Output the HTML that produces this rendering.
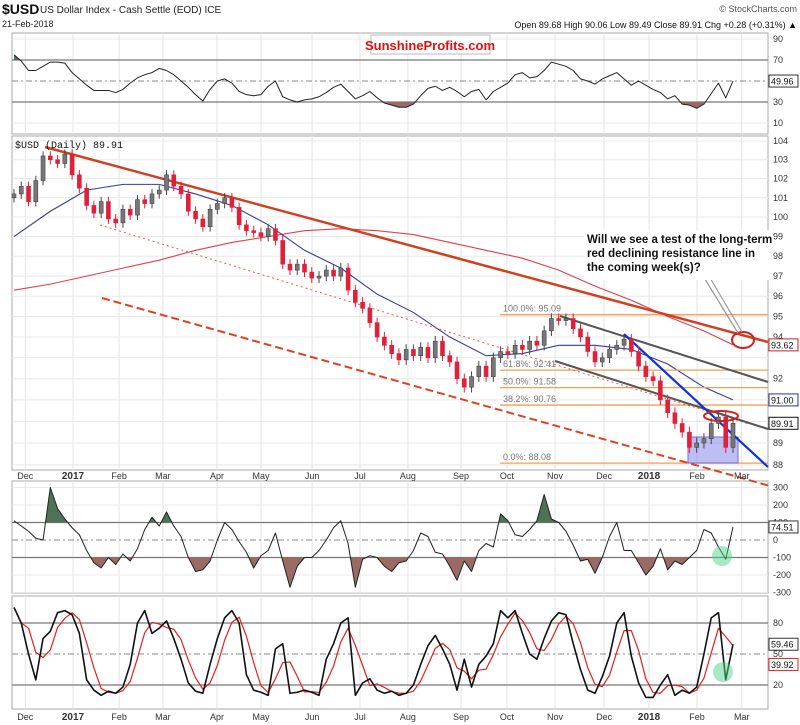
<!DOCTYPE html>
<html><head><meta charset="utf-8"><style>
html,body{margin:0;padding:0;background:#fff;}
svg{display:block;font-family:"Liberation Sans",sans-serif;}
</style></head><body>
<svg id="c" width="800" height="725" viewBox="0 0 800 725" xmlns="http://www.w3.org/2000/svg">
<g id="g"></g>
</svg>
<script>
// ---- data (sampled every ~3 trading sessions, Nov-2016 .. 21-Feb-2018) ----
const closes = [101.2,101.6,100.8,101.9,103.2,103.0,102.8,103.3,102.2,101.5,100.6,100.2,100.8,99.9,99.7,100.4,100.1,100.9,100.7,101.2,101.4,102.2,101.6,101.2,100.3,99.9,99.5,100.4,100.7,101.0,100.5,99.6,99.3,99.2,99.0,99.4,98.8,97.6,97.3,97.6,97.2,96.9,97.0,97.3,97.0,97.4,96.3,95.7,95.4,94.7,94.0,93.6,93.2,92.9,93.4,93.1,93.5,93.0,93.8,93.1,92.8,92.0,91.6,92.1,92.6,92.1,93.0,93.3,93.2,93.6,93.4,93.8,93.6,94.3,94.9,94.8,94.9,94.4,94.0,93.3,92.8,93.0,93.4,93.6,93.9,93.3,92.6,92.1,91.9,91.0,90.4,89.9,89.5,88.8,89.0,89.2,89.9,90.2,88.8,89.91];
const ma50 = [99.0,100.3,101.4,101.7,101.7,101.2,100.6,99.6,98.3,97.4,96.1,95.2,94.0,93.1,93.2,93.6,93.6,93.4,92.7,91.6,91.0];
const ma200 = [96.3,96.6,97.0,97.4,97.8,98.3,98.7,99.0,99.3,99.4,99.3,99.1,98.7,98.3,97.9,97.3,96.5,95.8,95.0,94.3,93.62];
const rsi = [75,69,60,60,64,68,68,67,58,52,46,41,41,41,39,42,48,53,56,58,62,60,56,50,44,37,31,42,50,52,48,40,37,36,37,45,50,35,32,30,32,33,35,39,44,47,40,33,36,40,34,29,27,25,25,28,36,43,45,41,44,40,35,40,42,32,40,44,48,56,58,53,54,60,68,66,64,60,52,50,47,52,55,58,52,46,50,46,42,39,33,36,28,27,24,28,38,48,34,49.96];
const cci = [110,80,50,10,0,300,180,120,70,30,-60,-130,-160,-100,-140,-80,-120,-50,60,130,80,160,80,20,-100,-180,-170,-120,0,100,60,-10,-70,-160,-90,-60,40,-120,-270,-150,-100,-100,-60,0,70,110,-20,-270,-110,-90,-100,-150,-180,-130,-120,-60,40,20,-70,-80,-150,-230,-120,-180,-60,-20,-40,150,110,30,20,60,110,260,120,100,50,-30,-120,-110,-190,-100,20,100,-60,-60,-130,-200,-150,-50,-170,-120,-140,-100,-60,60,40,-40,-110,74.51];
const stochK = [95,80,50,25,65,72,90,92,88,70,25,15,10,14,12,18,40,80,92,70,75,82,65,45,22,14,12,40,65,85,92,80,30,15,13,10,55,60,12,13,15,13,10,45,60,80,85,10,22,26,15,12,14,10,12,20,40,58,68,55,40,15,45,18,40,48,60,92,85,92,70,50,45,65,82,90,88,60,35,15,12,28,48,80,90,48,22,8,8,20,30,10,15,12,18,50,85,90,25,59.46];
const monthLabels = ["Dec","2017","Feb","Mar","Apr","May","Jun","Jul","Aug","Sep","Oct","Nov","Dec","2018","Feb","Mar"];
const monthSession = [5,26.1,46.5,65.9,89.8,109.3,131.9,153.1,174.3,197.8,218.1,239.4,261.1,281,302.2,322];
const priceTicks = [104,103,102,101,100,99,98,97,96,95,94,92,89,88];
const fibLevels = [95.09,92.41,91.58,90.76,88.08];
const fibNames = ["100.0%","61.8%","50.0%","38.2%","0.0%"];
const rsiTicks = [90,70,30,10];
const cciTicks = [300,200,100,0,-100,-200,-300];
const stochTicks = [80,50,20];

const NS="http://www.w3.org/2000/svg";
const G=document.getElementById('g');
function el(t,a,p){const e=document.createElementNS(NS,t);for(const k in a)e.setAttribute(k,a[k]);(p||G).appendChild(e);return e;}
const L=12,R=768;
const n=closes.length;
const xi=i=>14+i*(733-14)/(n-1);
const xs=s=>14+s*2.26;
const yP=p=>141+(Math.log(104)-Math.log(p))*1939;
const yR=v=>81-(v-50)*1.05;
const yC=v=>540-v*0.175;
const yS=v=>685-(v-20)*1.033;
const panels=[[33,134],[136,470],[481,593],[596,709]];

panels.forEach((pp,k)=>{
  const r=el('rect',{x:L,y:pp[0],width:R-L,height:pp[1]-pp[0],fill:'#fff',stroke:'#aaa','stroke-width':1});
  
  
  monthSession.forEach(s=>{const x=xs(s);if(x>L&&x<R){const l=el('line',{x1:x,x2:x,y1:pp[0],y2:pp[1],stroke:'#e4e4e4'});}});
});
for(let p=88;p<=104;p++){const l=el('line',{x1:L,x2:R,y1:yP(p),y2:yP(p),stroke:'#e8e8e8'});}
[90,10].forEach(v=>{const l=el('line',{x1:L,x2:R,y1:yR(v),y2:yR(v),stroke:'#e8e8e8'});});
[70,30].forEach(v=>{const l=el('line',{x1:L,x2:R,y1:yR(v),y2:yR(v),stroke:'#777','stroke-width':1.3});});
const rm=el('line',{x1:L,x2:R,y1:yR(50),y2:yR(50),stroke:'#888','stroke-dasharray':'6,3,2,3'});
[300,200,-200,-300].forEach(v=>{const l=el('line',{x1:L,x2:R,y1:yC(v),y2:yC(v),stroke:'#e8e8e8'});});
[100,-100].forEach(v=>{const l=el('line',{x1:L,x2:R,y1:yC(v),y2:yC(v),stroke:'#777','stroke-width':1.3});});
const cm=el('line',{x1:L,x2:R,y1:yC(0),y2:yC(0),stroke:'#888','stroke-dasharray':'6,3,2,3'});
[80,20].forEach(v=>{const l=el('line',{x1:L,x2:R,y1:yS(v),y2:yS(v),stroke:'#777','stroke-width':1.3});});
const sm=el('line',{x1:L,x2:R,y1:yS(50),y2:yS(50),stroke:'#888','stroke-dasharray':'6,3,2,3'});

function bandFill(vals,yf,thr,above,color,name){
  const pts=vals.map((v,i)=>xi(i)+','+yf(v)).join(' ');
  const cid='cl'+name;
  const cp=el('clipPath',{id:cid});
  const yt=yf(thr);
  el('rect',above?{x:L,y:0,width:R-L,height:yt}:{x:L,y:yt,width:R-L,height:725-yt},cp);
  const pg=el('polygon',{points:xi(0)+','+yt+' '+pts+' '+xi(vals.length-1)+','+yt,fill:color,'clip-path':'url(#'+cid+')'});
  
}
bandFill(rsi,yR,70,true,'#4f7256','rsi-overbought-fill');
bandFill(rsi,yR,30,false,'#9a6a64','rsi-oversold-fill');
bandFill(cci,yC,100,true,'#4f7256','cci-overbought-fill');
bandFill(cci,yC,-100,false,'#9a6a64','cci-oversold-fill');

function line(vals,yf,color,w,name){const p=el('polyline',{points:vals.map((v,i)=>xi(i)+','+yf(v)).join(' '),fill:'none',stroke:color,'stroke-width':w,'stroke-linejoin':'round'});return p;}
line(rsi,yR,'#222',1,'rsi-line');
line(cci,yC,'#222',1,'cci-line');
const stochD=stochK.map((v,i)=>i<2?v:(stochK[i]+stochK[i-1]+stochK[i-2])/3);
line(stochD,yS,'#e02020',1.2,'stoch-d-line');
line(stochK,yS,'#111',1.6,'stoch-k-line');

function maLine(vals,color,name){const p=el('polyline',{points:vals.map((v,j)=>xi(Math.min(j*5,n-1))+','+yP(v)).join(' '),fill:'none',stroke:color,'stroke-width':1.1});}
maLine(ma200,'#e0404a','ma200-line');
maLine(ma50,'#3a3aa0','ma50-line');

fibLevels.forEach((v,k)=>{
  const l=el('line',{x1:500,x2:R,y1:yP(v),y2:yP(v),stroke:'#f0a050','stroke-width':1.3});
  const t=el('text',{x:503,y:yP(v)-3,'font-size':9,fill:'#777'});t.textContent=fibNames[k]+': '+v.toFixed(2);
});
const bb=el('rect',{x:688,y:437,width:50,height:26,fill:'rgba(110,110,230,0.45)',stroke:'#7070d0'});

function tl(a,name){const l=el('line',a);}
tl({x1:100,y1:225,x2:749,y2:424,stroke:'#e06050','stroke-dasharray':'2,3','stroke-width':1},'dotted-support-line');
tl({x1:560,y1:316,x2:R,y2:382,stroke:'#555','stroke-width':2},'upper-channel-line');
tl({x1:555,y1:361,x2:R,y2:429,stroke:'#555','stroke-width':2},'lower-channel-line');
tl({x1:624,y1:334,x2:R,y2:467,stroke:'#1030e0','stroke-width':2.2},'blue-resistance-line');
tl({x1:45,y1:147,x2:R,y2:342,stroke:'#d04020','stroke-width':2.5},'red-declining-resistance-line');
tl({x1:102,y1:298,x2:770,y2:486,stroke:'#e04020','stroke-width':2,'stroke-dasharray':'8,4'},'red-dashed-support-line');

for(let i=0;i<n;i++){
  const c=closes[i],o=i?closes[i-1]:101.0;
  const hi=Math.max(o,c)+0.25,lo=Math.min(o,c)-0.25,x=xi(i);
  const up=c>=o,col=up?'#444':'#e0203a';
  const w=el('line',{x1:x,x2:x,y1:yP(hi),y2:yP(lo),stroke:col});
  const b=el('rect',{x:x-2,y:yP(Math.max(o,c)),width:4,height:Math.max(1,yP(Math.min(o,c))-yP(Math.max(o,c))),fill:up?'#777':'#e0203a',stroke:col,'stroke-width':0.6});
}

const e1=el('ellipse',{cx:721,cy:416,rx:17,ry:5,fill:'none',stroke:'#d02020','stroke-width':2});
const e2=el('ellipse',{cx:743,cy:340,rx:11,ry:8,fill:'none',stroke:'#d02020','stroke-width':2});
tl({x1:700,y1:271,x2:738,y2:333,stroke:'#999','stroke-width':1.2},'callout-line');
tl({x1:706,y1:271,x2:742,y2:332,stroke:'#999','stroke-width':1.2},'callout-line');
const g1=el('ellipse',{cx:722,cy:556,rx:10,ry:10,fill:'rgba(80,210,140,0.5)'});
const g2=el('ellipse',{cx:723,cy:672,rx:10,ry:10,fill:'rgba(80,210,140,0.5)'});

const cb=el('rect',{x:584,y:230,width:186,height:50,fill:'#fff'});
["Will we see a test of the long-term","red declining resistance line in","the coming week(s)?"].forEach((s,k)=>{const t=el('text',{x:587,y:243+k*14,'font-size':11.5,'font-weight':'bold',fill:'#111'});t.textContent=s;});

function txt(x,y,s,a,name){const t=el('text',Object.assign({x:x,y:y,'font-size':9,fill:'#333'},a||{}));t.textContent=s;return t;}
priceTicks.forEach(v=>txt(773,yP(v)+3,String(v),{},'price-tick-label'));
rsiTicks.forEach(v=>txt(773,yR(v)+3,String(v),{},'rsi-tick-label'));
cciTicks.forEach(v=>txt(773,yC(v)+3,String(v),{},'cci-tick-label'));
stochTicks.forEach(v=>txt(773,yS(v)+3,String(v),{},'stoch-tick-label'));
function box(y,s,col,name){const r=el('rect',{x:769,y:y-6,width:29,height:12,fill:'#fff',stroke:col});txt(771,y+3.5,s,{fill:'#111'},name+'-text');}
box(yR(49.96),'49.96','#333','rsi-value-box');
box(yP(93.62),'93.62','#d02020','ma200-value-box');
box(yP(91.00),'91.00','#3030a0','ma50-value-box');
box(yP(89.91),'89.91','#111','close-value-box');
box(yC(74.51),'74.51','#333','cci-value-box');
box(yS(59.46),'59.46','#333','stoch-k-box');
box(yS(39.92),'39.92','#e02020','stoch-d-box');
monthLabels.forEach((m,k)=>{const x=xs(monthSession[k]);const b=(m==='2017'||m==='2018');
  txt(x,479,m,{'text-anchor':'middle','font-weight':b?'bold':'normal','font-size':b?10:9},'date-axis-label');
  txt(x,720,m,{'text-anchor':'middle','font-weight':b?'bold':'normal','font-size':b?10:9},'date-axis-label-bottom');});

txt(2,14,'$USD',{'font-size':14,'font-weight':'bold',fill:'#111'},'symbol');
txt(40,13,'US Dollar Index - Cash Settle (EOD) ICE',{'font-size':10,fill:'#222'},'title');
txt(2,27,'21-Feb-2018',{'font-size':9,fill:'#222'},'date');
txt(797,12,'© StockCharts.com',{'font-size':9,fill:'#555','text-anchor':'end'},'watermark');
txt(797,28,'Open 89.68  High 90.06  Low 89.49  Close 89.91  Chg +0.28 (+0.31%) ▲',{'font-size':9,fill:'#111','text-anchor':'end'},'ohlc-summary');
const sp=el('rect',{x:371,y:35,width:119,height:19,fill:'#fff',stroke:'#bbb'});
txt(430,50,'SunshineProfits.com',{'font-size':13,'font-weight':'bold',fill:'#e01010','text-anchor':'middle'},'sunshine-logo');
txt(15,148,'$USD (Daily) 89.91',{'font-size':10,fill:'#111','font-family':'Liberation Mono, monospace'},'price-panel-label');
</script>
</body></html>
